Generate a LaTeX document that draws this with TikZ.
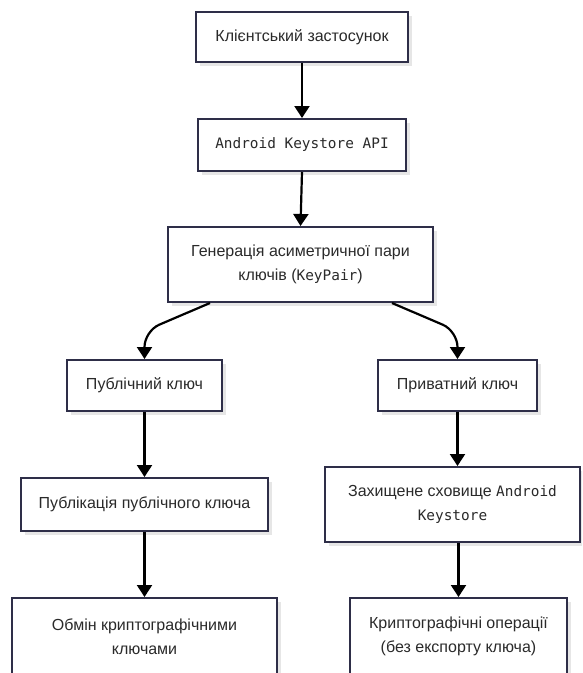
\documentclass[tikz,border=0pt]{standalone}
\usepackage{fontspec}
\setmainfont{Liberation Sans}
\newfontfamily\latmono{DejaVu Sans Mono}
\usetikzlibrary{arrows.meta}
\definecolor{bordercol}{HTML}{2E2E48}
\definecolor{textcol}{HTML}{2A2A2A}
\definecolor{shadowcol}{HTML}{E6E6E6}
\newcommand{\lat}[1]{{\latmono\fontsize{14.4}{24}\selectfont #1}}
\tikzset{
  box/.style={draw=bordercol, line width=2pt, fill=white, align=center,
    text=textcol, inner sep=0pt, font=\fontsize{16}{24}\selectfont,
    preaction={draw=none, fill=shadowcol, transform canvas={xshift=4pt,yshift=-4pt}}},
  arr/.style={draw=black, line width=2.2pt, -{Triangle[width=15pt,length=12pt]}},
  curvarr/.style={arr, rounded corners=16pt}
}
\begin{document}
\begin{tikzpicture}[x=1pt,y=1pt]
\useasboundingbox (0,0) rectangle (582,-673);
\begin{scope}
\clip (0,0) rectangle (582,-673);
\node[box, minimum width=212pt, minimum height=50pt] (b1) at (302,-37) {Клієнтський застосунок};
\node[box, minimum width=208pt, minimum height=52pt] (b2) at (302,-145) {\lat{Android Keystore API}};
\node[box, minimum width=265pt, minimum height=75pt] (b3) at (300.5,-264.5) {Генерація асиметричної пари\\ключів (\lat{KeyPair})};
\node[box, minimum width=155pt, minimum height=51pt] (pub) at (144.5,-385.5) {Публічний ключ};
\node[box, minimum width=159pt, minimum height=51pt] (priv) at (457.5,-385.5) {Приватний ключ};
\node[box, minimum width=247pt, minimum height=53pt] (publ) at (144.5,-504.5) {Публікація публічного ключа};
\node[box, minimum width=255pt, minimum height=75pt] (store) at (452.5,-504.5) {Захищене сховище \lat{Android}\\\lat{Keystore}};
\node[box, minimum width=265pt, minimum height=77pt] (obmin) at (144.5,-636.5) {Обмін криптографічними\\ключами};
\node[box, minimum width=217pt, minimum height=77pt] (crypto) at (458.5,-636.5) {Криптографічні операції\\(без експорту ключа)};

\coordinate (b3l) at ([xshift=-90.5pt]b3.south);
\coordinate (b3r) at ([xshift=91.5pt]b3.south);
\coordinate (bendl) at (144.5,-331);
\coordinate (bendr) at (457.5,-331);

\draw[arr] (b1.south) -- (b2.north);
\draw[arr] (b2.south) -- (b3.north);
\draw[curvarr] (b3l) -- (bendl) -- (pub.north);
\draw[curvarr] (b3r) -- (bendr) -- (priv.north);
\draw[arr] (pub.south) -- (publ.north);
\draw[arr] (publ.south) -- (obmin.north);
\draw[arr] (priv.south) -- (priv.south |- store.north);
\draw[arr] (store.south -| crypto.north) -- (crypto.north);
\end{scope}
\end{tikzpicture}
\end{document}
